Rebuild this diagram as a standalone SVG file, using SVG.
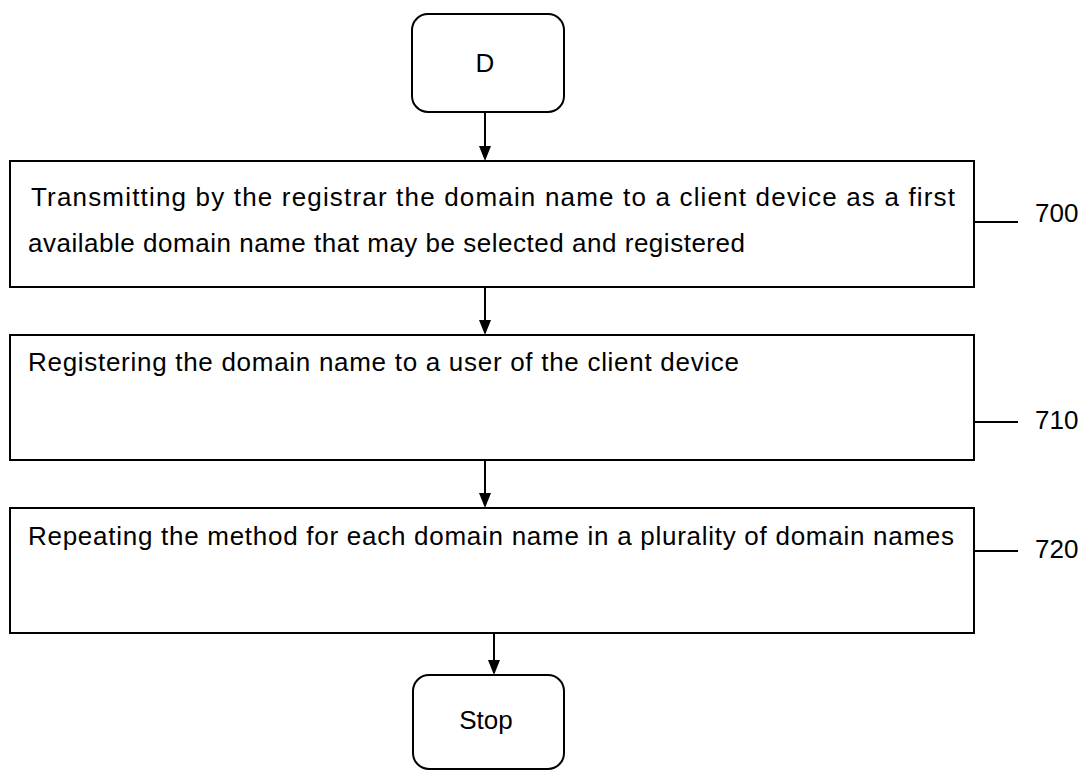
<svg xmlns="http://www.w3.org/2000/svg" width="1087" height="771" viewBox="0 0 1087 771">
<defs>
<style>
.box{fill:#fff;stroke:#000;stroke-width:2}
.t{font-family:"Liberation Sans",Arial,sans-serif;font-size:26px;fill:#000}
.c{stroke:#000;stroke-width:2;fill:none}
.ah{fill:#000}
</style>
</defs>
<rect width="1087" height="771" fill="#fff"/>
<g id="nodeD">
<rect class="box" x="412" y="14" width="152" height="98" rx="16"/>
<text class="t" x="485" y="72" text-anchor="middle">D</text>
</g>
<g id="n700">
<rect class="box" x="10" y="161" width="964" height="126"/>
<text class="t" x="31" y="206" textLength="924">Transmitting by the registrar the domain name to a client device as a first</text>
<text class="t" x="28" y="252" textLength="717">available domain name that may be selected and registered</text>
<line class="c" x1="974" y1="222" x2="1018" y2="222"/>
<text class="t" x="1035" y="222">700</text>
</g>
<g id="n710">
<rect class="box" x="10" y="335" width="964" height="125"/>
<text class="t" x="28" y="371" textLength="711">Registering the domain name to a user of the client device</text>
<line class="c" x1="974" y1="422" x2="1018" y2="422"/>
<text class="t" x="1035" y="429">710</text>
</g>
<g id="n720">
<rect class="box" x="10" y="508" width="964" height="125"/>
<text class="t" x="28" y="545" textLength="926">Repeating the method for each domain name in a plurality of domain names</text>
<line class="c" x1="974" y1="551" x2="1018" y2="551"/>
<text class="t" x="1035" y="558">720</text>
</g>
<g id="nodeStop">
<rect class="box" x="413" y="675" width="151" height="94" rx="16"/>
<text class="t" x="486" y="729" text-anchor="middle">Stop</text>
</g>
<g id="connectors">
<line class="c" x1="485" y1="112" x2="485" y2="147"/>
<path class="ah" d="M479,146 L491,146 L485,161 Z"/>
<line class="c" x1="485" y1="287" x2="485" y2="321"/>
<path class="ah" d="M479,320 L491,320 L485,335 Z"/>
<line class="c" x1="485" y1="460" x2="485" y2="494"/>
<path class="ah" d="M479,493 L491,493 L485,508 Z"/>
<line class="c" x1="494" y1="633" x2="494" y2="661"/>
<path class="ah" d="M488,660 L500,660 L494,675 Z"/>
</g>
</svg>
